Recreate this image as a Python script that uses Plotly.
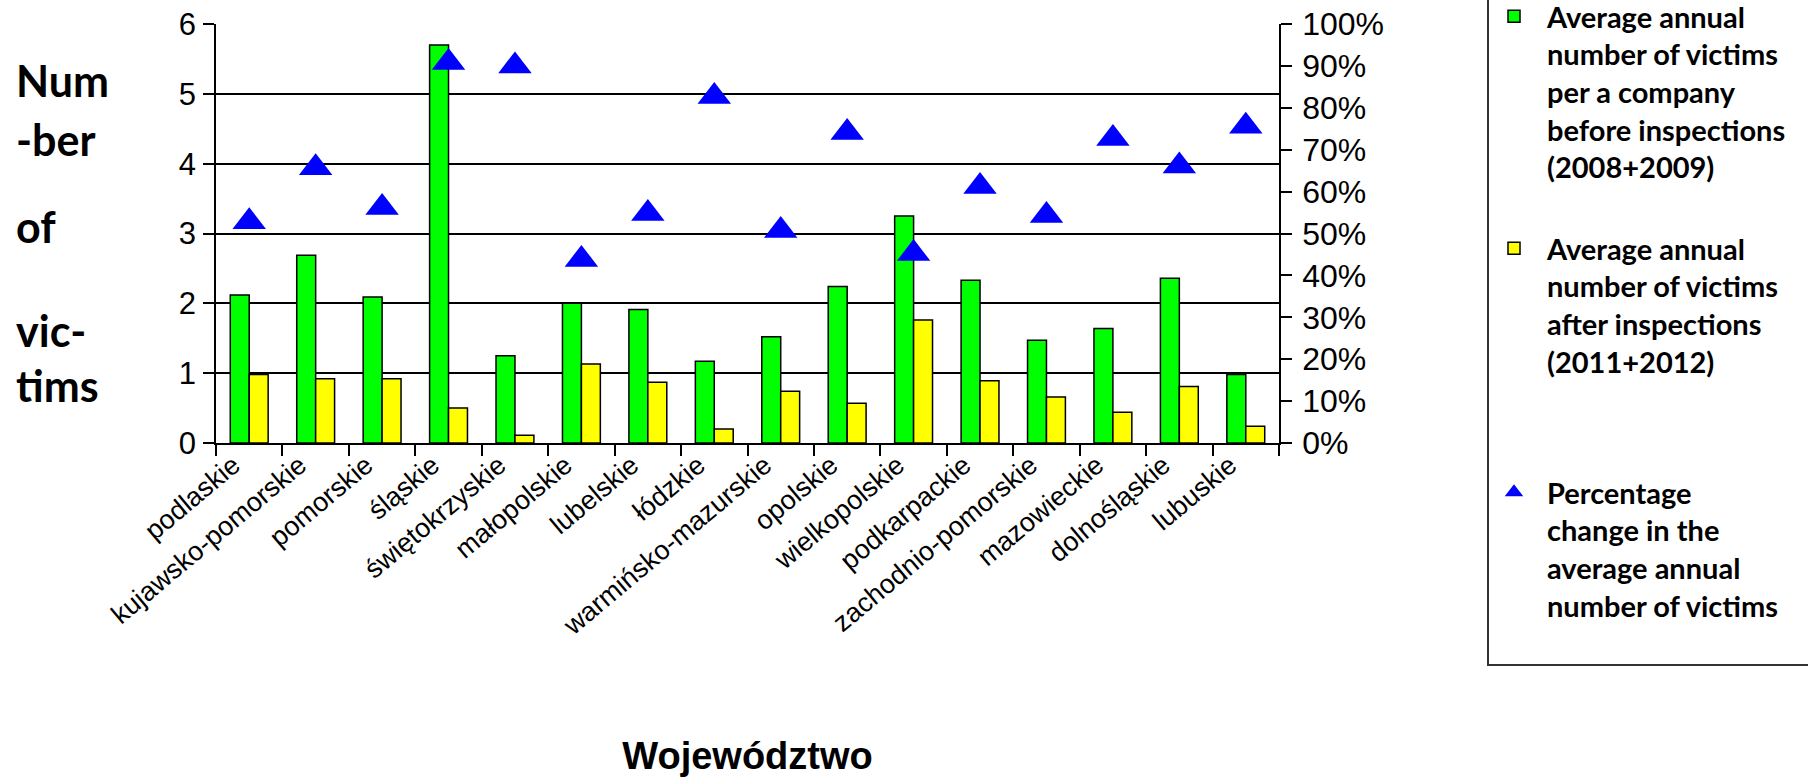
import plotly.graph_objects as go

categories = ["podlaskie", "kujawsko-pomorskie", "pomorskie", "śląskie", "świętokrzyskie",
              "małopolskie", "lubelskie", "łódzkie", "warmińsko-mazurskie", "opolskie",
              "wielkopolskie", "podkarpackie", "zachodnio-pomorskie", "mazowieckie",
              "dolnośląskie", "lubuskie"]
before = [2.12, 2.69, 2.09, 5.70, 1.25, 2.00, 1.91, 1.17, 1.52, 2.24, 3.25, 2.33, 1.47, 1.64, 2.36, 0.98]
after = [0.98, 0.92, 0.92, 0.50, 0.11, 1.13, 0.87, 0.20, 0.74, 0.57, 1.76, 0.89, 0.66, 0.44, 0.81, 0.24]
pct_change = [52.8, 65.7, 56.2, 90.8, 90.0, 43.8, 54.8, 82.7, 50.7, 74.1, 45.2, 61.2, 54.3, 72.7, 66.1, 75.6]

name_before = "Average annual<br>number of victims<br>per a company<br>before inspections<br>(2008+2009)"
name_after = "Average annual<br>number of victims<br>after inspections<br>(2011+2012)"
name_pct = "Percentage<br>change in the<br>average annual<br>number of victims"

ytitle_lines = ["Num", "-ber", "of", "vic-", "tims"]

W, H = 1808, 777
L, R, T, B = 216, 1279, 24, 443
PW, PH = R - L, B - T

def px(x):
    return (x - L) / PW

def py(y):
    return (B - y) / PH

fig = go.Figure()
fig.add_trace(go.Bar(x=categories, y=before, name=name_before,
                     marker=dict(color="#00FF00", line=dict(color="black", width=1.5)),
                     legend="legend"))
fig.add_trace(go.Bar(x=categories, y=after, name=name_after,
                     marker=dict(color="#FFFF00", line=dict(color="black", width=1.5)),
                     legend="legend2"))
fig.add_trace(go.Scatter(x=categories, y=pct_change, name=name_pct, mode="markers", yaxis="y2",
                         marker=dict(symbol="triangle-up", size=29, color="#0000FF"),
                         legend="legend3"))

leg_font = dict(family="Lato", size=29, color="black", weight="bold")
common_leg = dict(font=leg_font, bgcolor="rgba(0,0,0,0)", borderwidth=0, valign="top",
                  xanchor="left", yanchor="top", itemclick=False, itemwidth=56)

fig.update_layout(
    width=W, height=H,
    margin=dict(l=L, r=W - R, t=T, b=H - B, autoexpand=False),
    paper_bgcolor="white", plot_bgcolor="white",
    barmode="group", bargap=0.43, bargroupgap=0.0,
    font=dict(family="Liberation Sans", color="black"),
    xaxis=dict(range=[-0.5, len(categories) - 0.5],
               showline=True, linecolor="black", linewidth=1.5, ticks="outside",
               tickson="boundaries", ticklen=11, tickwidth=1.5, tickcolor="black",
               tickangle=-40, tickfont=dict(size=27, family="Liberation Sans"),
               ticklabelshift=-16, ticklabelstandoff=-6,
               title=dict(text="Województwo", standoff=130,
                          font=dict(size=38, family="Liberation Sans", weight="bold")),
               automargin=False),
    yaxis=dict(range=[0, 6], dtick=1, showline=True, linecolor="black", linewidth=1.5,
               ticks="outside", ticklen=11, tickwidth=1.5, tickcolor="black",
               showgrid=True, gridcolor="black", gridwidth=1.5, zeroline=False,
               ticklabelstandoff=1,
               tickfont=dict(size=31, family="Liberation Sans"), automargin=False),
    yaxis2=dict(range=[0, 100], dtick=10, ticksuffix="%", overlaying="y", side="right",
                showline=True, linecolor="black", linewidth=1.5, ticks="outside", ticklen=11,
                tickwidth=1.5, tickcolor="black", showgrid=False, zeroline=False,
                ticklabelstandoff=4,
                tickfont=dict(size=32, family="Liberation Sans"), automargin=False),
    legend=dict(x=px(1481), y=py(-9), **common_leg),
    legend2=dict(x=px(1481), y=py(223), **common_leg),
    legend3=dict(x=px(1481), y=py(467), **common_leg),
    showlegend=True,
)

ytitle_y = [80, 139, 227, 330, 385]
for txt, yy in zip(ytitle_lines, ytitle_y):
    fig.add_annotation(text=txt, xref="paper", yref="paper",
                       x=px(14), y=py(yy), xanchor="left", yanchor="middle", align="left",
                       showarrow=False,
                       font=dict(family="Lato", size=43, color="black", weight="bold"))

fig.add_shape(type="rect", xref="paper", yref="paper",
              x0=px(1488), x1=px(1860), y0=py(665), y1=py(-10),
              line=dict(color="#333333", width=2), fillcolor="rgba(0,0,0,0)")

fig.write_html("out.html", config={"displayModeBar": False},
               post_script="document.body.style.margin='0px';")
